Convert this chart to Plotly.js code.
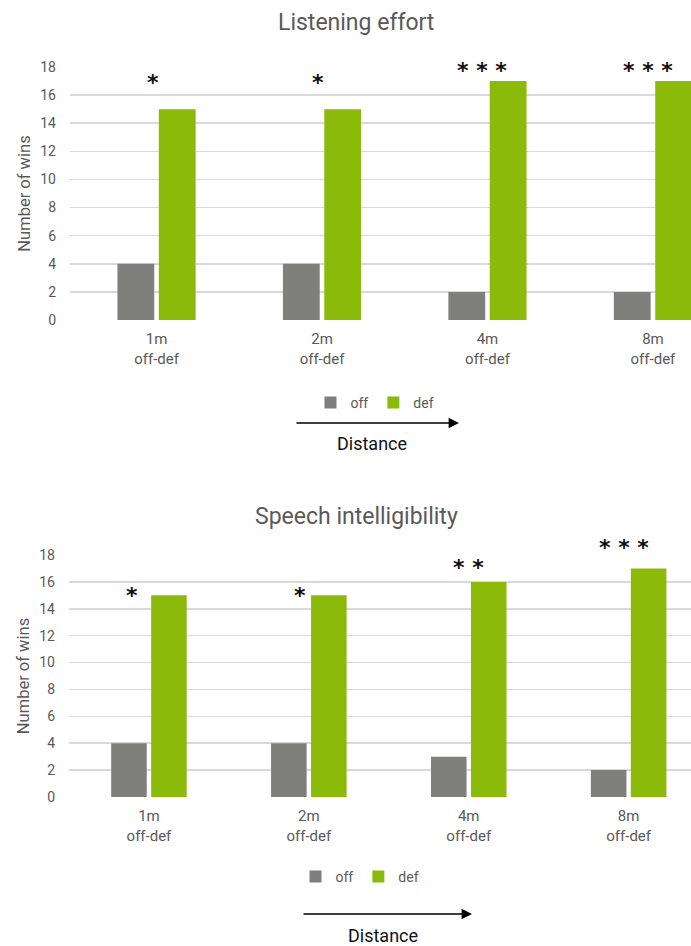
<!DOCTYPE html>
<html>
<head>
<meta charset="utf-8">
<script src="https://cdn.plot.ly/plotly-3.0.1.min.js"></script>
<style>html,body{margin:0;padding:0;background:#fff;}#chart{width:691px;height:946px;}</style>
</head>
<body>
<div id="chart"></div>
<script>
// ---- data ----
const categories = ['1m<br>off-def', '2m<br>off-def', '4m<br>off-def', '8m<br>off-def'];
const seriesNames = ['off', 'def'];
const effortOff = [4, 4, 2, 2];
const effortDef = [15, 15, 17, 17];
const intellOff = [4, 4, 3, 2];
const intellDef = [15, 15, 16, 17];
const effortSig = ['*', '*', '* * *', '* * *'];
const intellSig = ['*', '*', '* *', '* * *'];
const titles = ['Listening effort', 'Speech intelligibility'];
const yTitle = 'Number of wins';
const yTicks = [0, 2, 4, 6, 8, 10, 12, 14, 16, 18];
const arrowLabel = 'Distance';

// ---- styles ----
const FONT = 'Roboto, "Liberation Sans Narrow", sans-serif';
const GREY_TXT = '#595959';
const OFF_COLOR = '#7f7f7b';
const DEF_COLOR = '#8cba0b';
const H = 946, W = 691;

function bar(name, x, y, xa, ya, leg, color) {
  return {type: 'bar', name: name, x: x, y: y, xaxis: xa, yaxis: ya, legend: leg,
    marker: {color: color}, hoverinfo: 'skip'};
}

const traces = [
  bar(seriesNames[0], categories, effortOff, 'x', 'y', 'legend', OFF_COLOR),
  bar(seriesNames[1], categories, effortDef, 'x', 'y', 'legend', DEF_COLOR),
  bar(seriesNames[0], categories, intellOff, 'x2', 'y2', 'legend2', OFF_COLOR),
  bar(seriesNames[1], categories, intellDef, 'x2', 'y2', 'legend2', DEF_COLOR)
];

function xaxis(domainLeft, range, anchor) {
  return {domain: [domainLeft, 1], anchor: anchor, type: 'category', range: range, showgrid: false,
    zeroline: false, showline: false, ticks: '', fixedrange: true,
    tickfont: {family: FONT, size: 15, color: GREY_TXT}, ticklabelstandoff: 8};
}
function yaxis(domain, anchor) {
  return {domain: domain, anchor: anchor, range: [0, 18], tickvals: yTicks, showgrid: true,
    gridcolor: '#d9d9d9', gridwidth: 1.5, zeroline: false, showline: false, ticks: '',
    tickfont: {family: FONT, size: 14, color: GREY_TXT}, ticklabelstandoff: 13,
    title: {text: yTitle, font: {family: FONT, size: 16.5, color: GREY_TXT}, standoff: 5},
    fixedrange: true};
}

const py = v => 1 - v / H; // pixel y -> paper
const px = v => v / W;

const annotations = [];
// titles
annotations.push({text: titles[0], xref: 'paper', yref: 'paper', x: px(356), y: py(22),
  showarrow: false, font: {family: FONT, size: 23, color: GREY_TXT}, xanchor: 'center', yanchor: 'middle'});
annotations.push({text: titles[1], xref: 'paper', yref: 'paper', x: px(357), y: py(516),
  showarrow: false, font: {family: FONT, size: 23, color: GREY_TXT}, xanchor: 'center', yanchor: 'middle'});

// significance markers
const effortShift = [[-4, 12], [-4, 12], [-5, -4], [-5, -4]];
const intellShift = [[-17, -15], [-9, -15], [0, 0], [-5, 6]];
const starFont = {family: '"DejaVu Sans", sans-serif', size: 22, color: '#111', weight: 'bold'};
effortSig.forEach((s, i) => annotations.push({text: s, xref: 'x', yref: 'y', x: categories[i],
  y: effortDef[i], yanchor: 'bottom', xshift: effortShift[i][0], yshift: effortShift[i][1], showarrow: false,
  font: starFont}));
intellSig.forEach((s, i) => annotations.push({text: s, xref: 'x2', yref: 'y2', x: categories[i],
  y: intellDef[i], yanchor: 'bottom', xshift: intellShift[i][0], yshift: intellShift[i][1], showarrow: false,
  font: starFont}));

// distance arrows + labels
function arrow(x0, x1, y, labelY, labelX) {
  annotations.push({text: '', xref: 'paper', yref: 'paper', x: px(x1), y: py(y), ax: -(x1 - x0), ay: 0,
    showarrow: true, arrowhead: 2, arrowsize: 1.3, arrowwidth: 1.6, arrowcolor: '#000'});
  annotations.push({text: arrowLabel, xref: 'paper', yref: 'paper', x: px(labelX), y: py(labelY),
    showarrow: false, font: {family: FONT, size: 18, color: '#111'}, xanchor: 'center', yanchor: 'middle'});
}
arrow(295, 459, 423, 443, 372);
arrow(302, 472, 914, 935, 383);

const legendStyle = (x, y) => ({orientation: 'h', x: px(x), y: py(y), xanchor: 'center', yanchor: 'middle',
  font: {family: FONT, size: 14, color: GREY_TXT}, itemwidth: 30, bgcolor: 'rgba(0,0,0,0)',
  tracegroupgap: 0, itemclick: false, itemdoubleclick: false});

const layout = {
  width: W, height: H, margin: {l: 0, r: 0, t: 0, b: 0}, paper_bgcolor: '#fff', plot_bgcolor: '#fff',
  barmode: 'group', bargap: 0.5, bargroupgap: 0.11, showlegend: true,
  xaxis: xaxis(70 / W, [-0.523, 3.23], 'y'),
  yaxis: yaxis([py(320), py(67)], 'x'),
  xaxis2: xaxis(69 / W, [-0.5, 3.39], 'y2'),
  yaxis2: yaxis([py(797), py(555)], 'x2'),
  legend: legendStyle(375, 403),
  legend2: legendStyle(360, 877),
  annotations: annotations
};

Plotly.newPlot('chart', traces, layout, {displayModeBar: false, staticPlot: true});
</script>
</body>
</html>
